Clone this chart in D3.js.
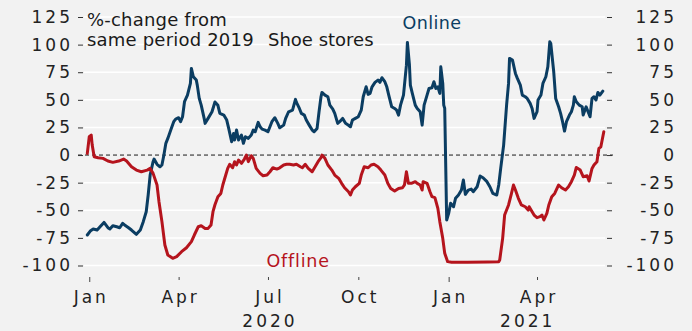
<!DOCTYPE html>
<html><head><meta charset="utf-8">
<script src="https://cdn.jsdelivr.net/npm/d3@7"></script>
<style>
html,body{margin:0;padding:0;background:#f2f2f2;}
svg{display:block;font-family:"DejaVu Sans",sans-serif;}
</style></head><body>
<svg id="chart" width="692" height="331"></svg>
<script>
// Shoe stores: %-change in sales from the same period of 2019, online vs offline
const onlineDates = ["2019-12-30","2020-01-02","2020-01-05","2020-01-09","2020-01-12","2020-01-16","2020-01-20","2020-01-22","2020-01-25","2020-01-29",
"2020-02-01","2020-02-04","2020-02-06","2020-02-10","2020-02-13","2020-02-18","2020-02-22","2020-02-25","2020-02-28","2020-03-01",
"2020-03-03","2020-03-06","2020-03-07","2020-03-10","2020-03-13","2020-03-15","2020-03-17","2020-03-19","2020-03-21","2020-03-24",
"2020-03-27","2020-03-29","2020-04-01","2020-04-03","2020-04-05","2020-04-07","2020-04-10","2020-04-13","2020-04-14","2020-04-16",
"2020-04-19","2020-04-20","2020-04-22","2020-04-24","2020-04-27","2020-04-28","2020-05-01","2020-05-05","2020-05-08","2020-05-11",
"2020-05-13","2020-05-17","2020-05-20","2020-05-22","2020-05-25","2020-05-27","2020-05-28","2020-05-30","2020-06-01","2020-06-04",
"2020-06-06","2020-06-08","2020-06-11","2020-06-14","2020-06-16","2020-06-18","2020-06-21","2020-06-23","2020-06-25","2020-06-28",
"2020-07-01","2020-07-03","2020-07-05","2020-07-08","2020-07-11","2020-07-13","2020-07-17","2020-07-19","2020-07-22","2020-07-26",
"2020-07-29","2020-07-30","2020-08-02","2020-08-04","2020-08-07","2020-08-09","2020-08-12","2020-08-15","2020-08-17","2020-08-20",
"2020-08-22","2020-08-24","2020-08-25","2020-08-28","2020-08-31","2020-09-02","2020-09-05","2020-09-07","2020-09-10","2020-09-12",
"2020-09-15","2020-09-18","2020-09-21","2020-09-23","2020-09-25","2020-09-28","2020-10-01","2020-10-04","2020-10-06","2020-10-09",
"2020-10-11","2020-10-13","2020-10-15","2020-10-18","2020-10-21","2020-10-23","2020-10-25","2020-10-28","2020-10-30","2020-11-01",
"2020-11-04","2020-11-07","2020-11-09","2020-11-11","2020-11-13","2020-11-16","2020-11-17","2020-11-19","2020-11-20","2020-11-22",
"2020-11-23","2020-11-25","2020-11-28","2020-11-30","2020-12-03","2020-12-05","2020-12-07","2020-12-10","2020-12-12","2020-12-15",
"2020-12-17","2020-12-19","2020-12-21","2020-12-23","2020-12-24","2020-12-26","2020-12-27","2020-12-28","2020-12-30","2021-01-01",
"2021-01-03","2021-01-06","2021-01-08","2021-01-11","2021-01-14","2021-01-16","2021-01-18","2021-01-21","2021-01-24","2021-01-26",
"2021-01-30","2021-02-02","2021-02-05","2021-02-09","2021-02-12","2021-02-15","2021-02-19","2021-02-21","2021-02-23","2021-02-26",
"2021-03-01","2021-03-03","2021-03-04","2021-03-07","2021-03-10","2021-03-12","2021-03-15","2021-03-17","2021-03-20","2021-03-22",
"2021-03-25","2021-03-27","2021-03-29","2021-04-01","2021-04-02","2021-04-05","2021-04-07","2021-04-10","2021-04-12","2021-04-14",
"2021-04-15","2021-04-18","2021-04-20","2021-04-23","2021-04-25","2021-04-27","2021-04-29","2021-05-01","2021-05-04","2021-05-06",
"2021-05-08","2021-05-09","2021-05-11","2021-05-14","2021-05-17","2021-05-18","2021-05-21","2021-05-23","2021-05-25","2021-05-27",
"2021-05-29","2021-05-31","2021-06-02","2021-06-04","2021-06-07"];
const onlineValues = [-72.4,-68.8,-67,-67.9,-64.9,-61,-65.8,-67,-64,-64.9,
-65.8,-61.8,-63.3,-65.8,-67.9,-71.8,-67.9,-60.3,-51.3,-36.2,
-18.1,-6,-3.6,-8.4,-10.6,-9,0,10.6,15.1,22.6,
30.2,32.6,33.8,30.2,34.7,48.3,54.3,64.9,78.4,70.9,
67.9,63.3,51.3,45.2,33.2,28.7,33.2,39.2,48,45,
37.7,36.2,31.7,24.1,12.1,19.6,13.6,22.6,13.6,18.1,
10.6,16.6,15.1,18.1,22.6,21.1,29.6,25.6,23.5,22.6,
21.1,25.6,30.2,33.8,28.7,24.7,27.1,33.2,39.2,40.7,
50.4,47.7,42.2,37.7,36.2,31.7,27.1,22.6,21.1,24.1,
39.2,52.8,56.7,54.3,52.8,45.2,41.6,37.7,28.7,30.2,
33.2,28.7,27,25.6,31.7,33.2,34.7,40.7,52.8,61.8,
54.9,55.8,61.8,65.8,67.9,65.8,70,66.4,61.8,54.3,
43.7,42.2,40.7,36.2,45.2,54.3,63.3,81.4,102,82.4,
63.3,55.8,45.2,42.2,39.2,27.1,45.2,54.3,60.3,60.9,
66.4,60.3,61.8,55.8,79.9,64.9,45.2,42.2,-58.8,-52.8,
-43.7,-46.8,-39.2,-36.2,-31.7,-22.6,-35.6,-31.7,-30.8,-33.2,
-28.7,-19,-20.5,-24.1,-28.7,-34.7,-36.2,-27.1,-12.1,9,
45.2,64.9,87.5,86,73.9,69.4,63.3,54.3,52.8,51.3,
46.8,42.2,33.2,39.2,49.8,54.3,64.9,70.9,79.9,102.6,
101,75.4,51.3,43.7,37.7,30.2,21.7,30.2,36.2,39.2,
45.2,52.8,48.3,45.2,43.7,36.2,43.7,39.2,34.7,51.3,
52.8,49.8,56.7,54.3,57.9];

const offlineDates = ["2019-12-30","2020-01-01","2020-01-03","2020-01-04","2020-01-06","2020-01-10","2020-01-15","2020-01-20","2020-01-25","2020-01-31",
"2020-02-05","2020-02-08","2020-02-13","2020-02-18","2020-02-23","2020-02-29","2020-03-03","2020-03-06","2020-03-10","2020-03-12",
"2020-03-15","2020-03-18","2020-03-21","2020-03-26","2020-03-30","2020-04-04","2020-04-09","2020-04-14","2020-04-17","2020-04-21",
"2020-04-24","2020-04-28","2020-05-01","2020-05-04","2020-05-06","2020-05-08","2020-05-11","2020-05-14","2020-05-16","2020-05-19",
"2020-05-21","2020-05-23","2020-05-26","2020-05-28","2020-05-30","2020-06-01","2020-06-04","2020-06-07","2020-06-09","2020-06-11",
"2020-06-14","2020-06-16","2020-06-19","2020-06-23","2020-06-26","2020-06-30","2020-07-03","2020-07-06","2020-07-10","2020-07-13",
"2020-07-17","2020-07-20","2020-07-23","2020-07-27","2020-07-30","2020-08-03","2020-08-05","2020-08-08","2020-08-11","2020-08-15",
"2020-08-18","2020-08-21","2020-08-24","2020-08-25","2020-08-28","2020-08-31","2020-09-04","2020-09-07","2020-09-11","2020-09-14",
"2020-09-17","2020-09-21","2020-09-23","2020-09-25","2020-09-28","2020-10-02","2020-10-04","2020-10-07","2020-10-11","2020-10-14",
"2020-10-17","2020-10-21","2020-10-24","2020-10-28","2020-10-31","2020-11-03","2020-11-07","2020-11-11","2020-11-15","2020-11-17",
"2020-11-19","2020-11-21","2020-11-24","2020-11-28","2020-11-30","2020-12-03","2020-12-05","2020-12-06","2020-12-10","2020-12-13",
"2020-12-15","2020-12-18","2020-12-21","2020-12-23","2020-12-26","2020-12-28","2020-12-31","2021-01-04","2021-01-20","2021-02-10",
"2021-02-21","2021-02-22","2021-02-25","2021-02-27","2021-03-03","2021-03-06","2021-03-08","2021-03-10","2021-03-13","2021-03-16",
"2021-03-20","2021-03-23","2021-03-24","2021-03-27","2021-03-29","2021-04-01","2021-04-04","2021-04-06","2021-04-08","2021-04-11",
"2021-04-13","2021-04-16","2021-04-19","2021-04-23","2021-04-26","2021-04-30","2021-05-03","2021-05-06","2021-05-09","2021-05-11",
"2021-05-15","2021-05-18","2021-05-22","2021-05-24","2021-05-27","2021-05-29","2021-06-01","2021-06-03","2021-06-05","2021-06-08"];
const offlineValues = [1.5,16.6,18.1,9,-1.5,-2.4,-3,-5.4,-6.6,-5.4,
-3.6,-5.4,-10.6,-13.6,-15.1,-13.6,-12.1,-16.6,-27.1,-42.2,
-60.3,-81.4,-90.5,-93.5,-92,-87.5,-83.9,-78.4,-72.4,-64.9,
-64,-66.4,-66.4,-63.3,-51.3,-45,-37.7,-34.7,-27.1,-18.1,
-12.1,-8.4,-11.5,-6,-9,-4.5,-7.5,-3.6,0,-6,
-0.6,-3,-12.1,-16.6,-18.7,-18.1,-15.1,-11.5,-12.7,-11.5,
-9,-8.4,-8.4,-9,-8.4,-10.6,-11.5,-8.4,-12.1,-15.1,
-10.6,-6,-2.4,0,-3,-9,-13.6,-18.1,-21.1,-25.6,
-29.6,-33.2,-36.2,-31.7,-28.7,-25.6,-18.1,-10.6,-11.5,-9,
-8.4,-10.6,-13.6,-18.1,-25.6,-30.2,-32.6,-30.2,-29.6,-27.1,
-15.1,-25.6,-25.6,-24.1,-25.6,-27.1,-31.7,-24.1,-25.6,-33.2,
-37.7,-38.6,-48.3,-60.3,-75.4,-89,-96.5,-97.1,-97.1,-96.8,
-96.5,-95,-75.4,-54.3,-45.2,-34.7,-27.1,-31.7,-39.2,-45.2,
-46.8,-49.8,-46.8,-51.3,-54.3,-56.7,-55.8,-54.3,-58.8,-52.8,
-45.2,-37.7,-34.7,-27.1,-29.6,-31.7,-28.7,-24.1,-18.1,-11.2,
-13.6,-19.6,-18.7,-23.5,-12.1,-9,-6,6,7.5,21.1];

const yTicks = [-100, -75, -50, -25, 0, 25, 50, 75, 100, 125];
const monthTicks = ["2020-01-01", "2020-04-01", "2020-07-01", "2020-10-01", "2021-01-01", "2021-04-01"];
const years = ["2020", "2021"];
const titleLines = ["%-change from", "same period 2019"];
const subtitle = "Shoe stores";
const seriesNames = ["Online", "Offline"];
const seriesColors = ["#0b3d62", "#b5141d"];

const parse = d3.utcParse("%Y-%m-%d");
const online = onlineDates.map((d, i) => ({date: parse(d), value: onlineValues[i]}));
const offline = offlineDates.map((d, i) => ({date: parse(d), value: offlineValues[i]}));

const svg = d3.select("#chart");
const plotLeft = 84, plotRight = 605;

const x = d3.scaleUtc()
  .domain([parse("2019-12-30"), parse("2021-06-08")])
  .range([87.3, 603.8]);
const y = d3.scaleLinear().domain([-100, 125]).range([265.5, 17.0]);

// horizontal grid
svg.append("g").selectAll("line")
  .data(yTicks.filter(v => v !== 0))
  .join("line")
  .attr("x1", plotLeft).attr("x2", plotRight)
  .attr("y1", d => y(d)).attr("y2", d => y(d))
  .attr("stroke", "#ffffff").attr("stroke-width", 1.5);

// zero reference line
svg.append("line")
  .attr("x1", 78).attr("x2", 613)
  .attr("y1", y(0)).attr("y2", y(0))
  .attr("stroke", "#1a1a1a").attr("stroke-width", 1)
  .attr("stroke-dasharray", "4,3");

const axisFont = g => g
  .attr("font-family", "DejaVu Sans, sans-serif")
  .attr("font-size", 17)
  .call(s => s.select(".domain").remove())
  .call(s => s.selectAll(".tick line").attr("stroke", "#333"))
  .call(s => s.selectAll(".tick text").attr("fill", "#222").attr("letter-spacing", 3));

// left axis
svg.append("g")
  .attr("transform", "translate(83,0)")
  .call(d3.axisLeft(y).tickValues(yTicks).tickSize(5).tickPadding(5).tickFormat(d => String(d)))
  .call(axisFont);

// right axis (labels right-aligned)
svg.append("g")
  .attr("transform", "translate(607,0)")
  .call(d3.axisRight(y).tickValues(yTicks).tickSize(5).tickFormat(d => String(d)))
  .call(axisFont)
  .call(g => g.selectAll(".tick text").attr("text-anchor", "end").attr("x", 70));

// bottom axis: quarter months
const xAxis = svg.append("g")
  .attr("transform", "translate(0,277)")
  .call(d3.axisBottom(x).tickValues(monthTicks.map(parse)).tickSize(3).tickFormat(d3.utcFormat("%b")))
  .call(axisFont);
xAxis.selectAll(".tick line").attr("y2", d => d.getUTCMonth() === 0 ? 5 : 3).attr("stroke", "#444");
xAxis.selectAll(".tick text").attr("y", 26).attr("dy", null).attr("dx", 1.5);

// year labels centred under each year's span of data
const lastDate = d3.max(offline, d => d.date);
svg.append("g").selectAll("text")
  .data(years)
  .join("text")
  .attr("x", yr => {
    const s = parse(yr + "-01-01");
    const e = d3.min([parse(yr + "-12-31"), lastDate]);
    return x(new Date((+s + +e) / 2));
  })
  .attr("y", 327)
  .attr("dx", 1.5)
  .attr("text-anchor", "middle")
  .attr("font-size", 17)
  .attr("letter-spacing", 3)
  .attr("fill", "#222")
  .text(d => d);

// series lines
const line = d3.line().x(d => x(d.date)).y(d => y(d.value));
[online, offline].forEach((data, i) => {
  svg.append("path")
    .datum(data)
    .attr("fill", "none")
    .attr("stroke", seriesColors[i])
    .attr("stroke-width", 3)
    .attr("stroke-linejoin", "round")
    .attr("stroke-linecap", "round")
    .attr("d", line);
});

// title block
svg.append("g").selectAll("text")
  .data(titleLines)
  .join("text")
  .attr("x", 87).attr("y", (d, i) => 26 + i * 19.5)
  .attr("font-size", 18)
  .attr("letter-spacing", 0.2)
  .attr("fill", "#1a1a1a")
  .text(d => d);
svg.append("text")
  .attr("x", 268).attr("y", 45.5)
  .attr("font-size", 18)
  .attr("fill", "#1a1a1a")
  .text(subtitle);

// series labels
svg.append("text")
  .attr("x", 402.5).attr("y", 29.3)
  .attr("font-size", 17.5).attr("letter-spacing", 0.4)
  .attr("fill", seriesColors[0])
  .text(seriesNames[0]);
svg.append("text")
  .attr("x", 266.5).attr("y", 266.5)
  .attr("font-size", 17.5).attr("letter-spacing", 0.8)
  .attr("fill", seriesColors[1])
  .text(seriesNames[1]);
</script>
</body></html>
